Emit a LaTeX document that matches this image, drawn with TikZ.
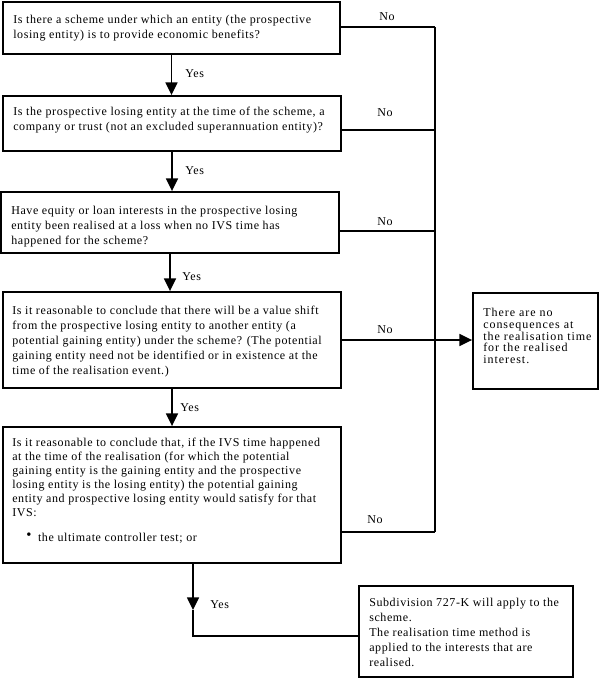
\documentclass[tikz,border=0pt]{standalone}
\usepackage{fontspec}
\setmainfont{Liberation Serif}
\newfontfamily\boxfont{Liberation Serif}[LetterSpace=5]
\newfontfamily\boxfontw{Liberation Serif}[LetterSpace=8]
\usetikzlibrary{arrows.meta}
\tikzset{
  box/.style={draw, line width=1.4pt, rectangle, inner sep=0pt},
  txt/.style={anchor=west, align=left, inner sep=0pt, font=\boxfont\fontsize{9}{11.25}\selectfont},
  lbl/.style={inner sep=0pt, font=\boxfont\fontsize{9}{11}\selectfont},
  conn/.style={line width=1.1pt},
  arr/.style={conn, -{Triangle[width=9pt,length=9.5pt]}},
}
\begin{document}
\begin{tikzpicture}[x=0.75pt,y=-0.75pt]
\useasboundingbox (0,0) rectangle (604,684);
% boxes
\node[box, minimum width=252.75pt, minimum height=39pt] (b1) at (171.5,28) {};
\node[box, minimum width=253.5pt, minimum height=41.25pt] (b2) at (172,123.5) {};
\node[box, minimum width=253.5pt, minimum height=45.75pt] (b3) at (170,222.5) {};
\node[box, minimum width=253.5pt, minimum height=72pt] (b4) at (172,340) {};
\node[box, minimum width=253.5pt, minimum height=102pt] (b5) at (172,495) {};
\node[box, minimum width=160.5pt, minimum height=68.25pt] (b6) at (466,631.5) {};
\node[box, minimum width=93.75pt, minimum height=72pt] (b7) at (535.5,341) {};
% texts
\node[txt] (t1) at (13,28.5) {Is there a scheme under which an entity (the prospective\\losing entity) is to provide economic benefits?};
\node[txt] (t2) at (13,120.5) {Is the prospective losing entity at the time of the scheme, a\\company or trust (not an excluded superannuation entity)?};
\node[txt] (t3) at (11,226.3) {Have equity or loan interests in the prospective losing\\entity been realised at a loss when no IVS time has\\happened for the scheme?};
\node[txt] (t4) at (12,341.7) {Is it reasonable to conclude that there will be a value shift\\from the prospective losing entity to another entity (a\\potential gaining entity) under the scheme? (The potential\\gaining entity need not be identified or in existence at the\\time of the realisation event.)};
\node[txt, font=\boxfont\fontsize{9}{10.5}\selectfont] (t5) at (12,490.5) {Is it reasonable to conclude that, if the IVS time happened\\at the time of the realisation (for which the potential\\gaining entity is the gaining entity and the prospective\\losing entity is the losing entity) the potential gaining\\entity and prospective losing entity would satisfy for that\\IVS:\\[8.25pt]\hspace*{10.5pt}\raisebox{1pt}{\fontsize{11}{11}\selectfont\textbullet}\hspace{5pt}the ultimate controller test; or};
\node[txt, font=\boxfont\fontsize{9}{11.4}\selectfont] (t6) at (369,632.5) {Subdivision 727-K will apply to the\\scheme.\\The realisation time method is\\applied to the interests that are\\realised.};
\node[txt, font=\boxfontw\fontsize{9}{8.7}\selectfont] (t7) at (483,336) {There are no\\consequences at\\the realisation time\\for the realised\\interest.};
% coordinates
\coordinate (vtop) at (435,27);
\coordinate (vbot) at (435,532);
\coordinate (n1) at (340,27);
\coordinate (n2) at (341,130);
\coordinate (n3) at (339,231);
\coordinate (n5) at (341,532);
\coordinate (y5) at (193,563);
\coordinate (y5tip) at (193,610);
\coordinate (c6) at (193,636);
% Yes arrows
\draw[arr] (b1.south) -- (b1.south |- b2.north);
\draw[arr] (b2.south) -- (b2.south |- b3.north);
\draw[arr] (b3.south) -- (b3.south |- b4.north);
\draw[arr] (b4.south) -- (b4.south |- b5.north);
\draw[arr] (y5) -- (y5tip);
\draw[conn] (y5tip) -- (c6) -- (c6 -| b6.west);
% No lines
\draw[conn] (vtop) -- (vbot);
\draw[conn] (n1) -- (vtop);
\draw[conn] (n2) -- (n2 -| vtop);
\draw[conn] (n3) -- (n3 -| vtop);
\draw[conn] (n5) -- (vbot);
\draw[arr] (b4.east) -- (b4.east -| b7.west);
% labels
\node[lbl, anchor=west] (y1) at (185,74) {Yes};
\node[lbl, anchor=west] (y2) at (185,171) {Yes};
\node[lbl, anchor=west] (y3) at (182,277) {Yes};
\node[lbl, anchor=west] (y4) at (180,408) {Yes};
\node[lbl, anchor=west] (y6) at (210,605) {Yes};
\node[lbl] (no1) at (387,17) {No};
\node[lbl] (no2) at (385,113) {No};
\node[lbl] (no3) at (385,222) {No};
\node[lbl] (no4) at (385,330) {No};
\node[lbl] (no5) at (375,520) {No};
\end{tikzpicture}
\end{document}
